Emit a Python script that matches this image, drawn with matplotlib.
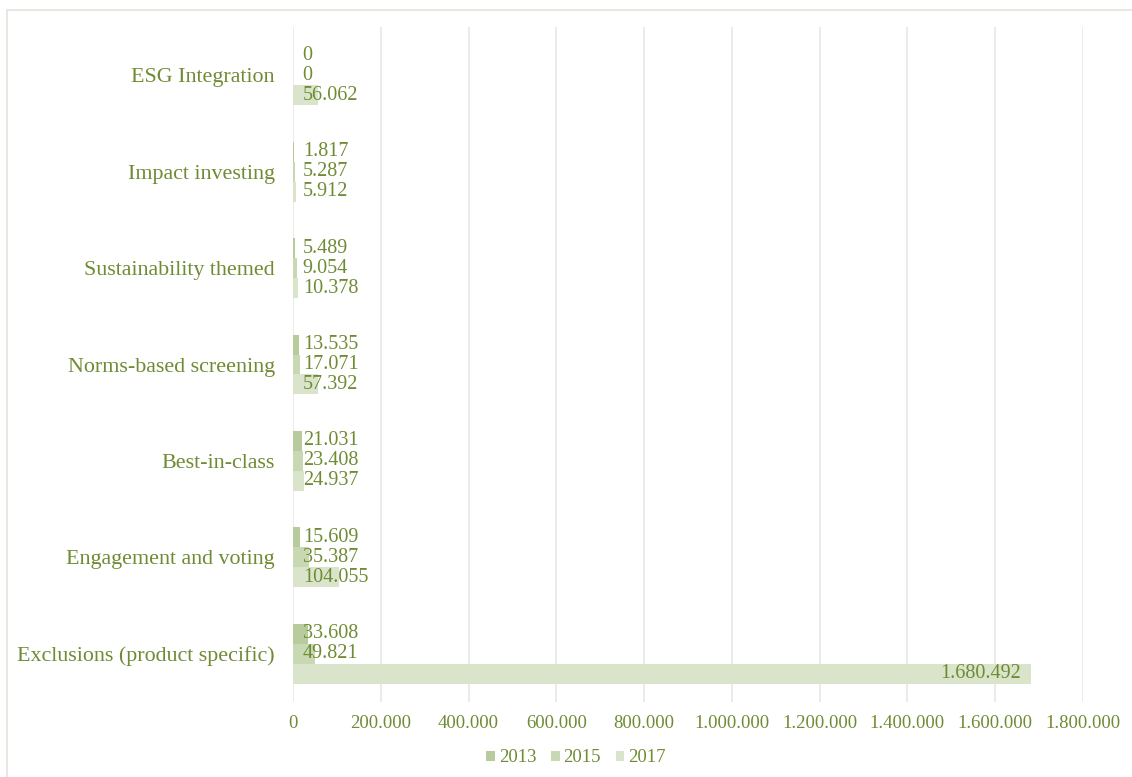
import matplotlib.pyplot as plt
import numpy as np
from matplotlib.patches import Rectangle

# SRI strategies, assets in EUR millions
strategies = ['Exclusions (product specific)', 'Engagement and voting', 'Best-in-class',
              'Norms-based screening', 'Sustainability themed', 'Impact investing', 'ESG Integration']
years = ['2013', '2015', '2017']
v2013 = [33608, 15609, 21031, 13535, 5489, 1817, 0]
v2015 = [49821, 35387, 23408, 17071, 9054, 5287, 0]
v2017 = [1680492, 104055, 24937, 57392, 10378, 5912, 56062]

green = '#6F8C34'
colors = ['#B7CB9C', '#C8D8B2', '#D9E4CA']
grid_c = '#E9E9E2'

plt.rcParams['font.family'] = ['Liberation Serif', 'DejaVu Serif']

def fmt(v):
    return f'{v:,.0f}'.replace(',', '.')

fig = plt.figure(figsize=(11.32, 7.77), dpi=100)
# chart area frame
fig.patches.append(Rectangle((7 / 1132, -0.1), 1.2, 1 - 10 / 777 + 0.1,
                             transform=fig.transFigure, fill=False,
                             edgecolor='#E4E4DA', lw=1.2))
ax = fig.add_axes([293 / 1132, 1 - 702 / 777, (1083 - 293) / 1132, (702 - 27) / 777])

y = np.arange(len(strategies))
h = 0.207
series = [v2013, v2015, v2017]
offsets = [h, 0, -h]
for vals, off, c, yr in zip(series, offsets, colors, years):
    bars = ax.barh(y + off, vals, height=h, color=c, label=yr, zorder=2)
    for b, v in zip(bars, vals):
        yc = b.get_y() + b.get_height() / 2
        if v > 500000:
            ax.annotate(fmt(v), (v, yc), xytext=(-7, 0), textcoords='offset points',
                        ha='right', va='center', color=green, fontsize=14.5)
        else:
            ax.annotate(fmt(v), (0, yc), xytext=(7, 0), textcoords='offset points',
                        ha='left', va='center', color=green, fontsize=14.5)

ax.set_xlim(0, 1800000)
ax.set_ylim(-0.5, 6.5)
xt = np.arange(0, 1800001, 200000)
ax.set_xticks(xt)
ax.set_xticklabels([fmt(v) for v in xt], color=green, fontsize=13.5)
ax.set_yticks(y)
ax.set_yticklabels(strategies, color=green, fontsize=15.8)
ax.tick_params(axis='x', length=0, pad=9)
ax.tick_params(axis='y', length=0, pad=13)
ax.grid(axis='x', color=grid_c, lw=1.2, zorder=0)
ax.set_axisbelow(True)
for s in ax.spines.values():
    s.set_visible(False)

ax.legend(loc='center', bbox_to_anchor=(576 / 1132, 1 - 758 / 777),
          bbox_transform=fig.transFigure, ncol=3, frameon=False, fontsize=13.5,
          handlelength=0.45, handleheight=0.45, handletextpad=0.2,
          columnspacing=0.8, labelcolor=green)

fig.savefig('out.png', dpi=100)
